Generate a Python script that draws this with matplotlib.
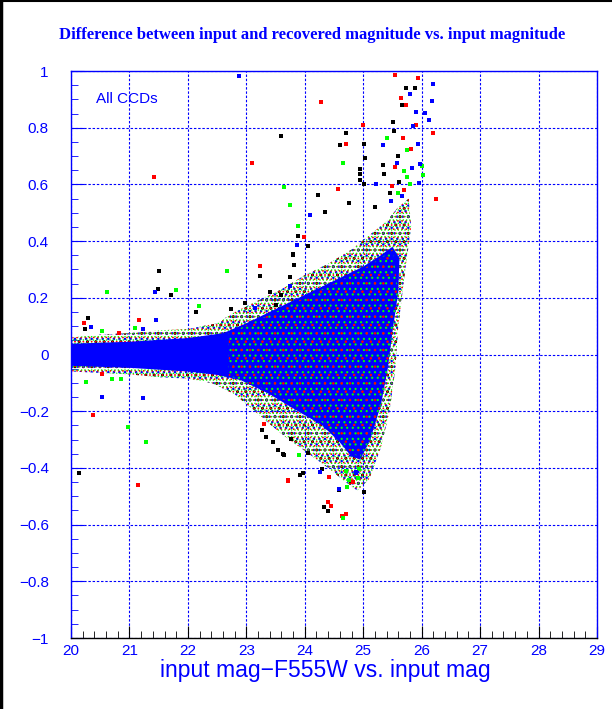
import matplotlib
matplotlib.use('Agg')
import matplotlib.pyplot as plt
from matplotlib.lines import Line2D
import numpy as np

# envelope of the dense point cloud (data coords)
outer_x = [20.0, 20.5, 21.0, 21.5, 22.0, 22.5, 22.8, 23.2, 23.6, 24.0, 24.4, 24.8, 25.1, 25.4, 25.6, 25.78,
           25.82, 25.72, 25.6, 25.55, 25.45, 25.3, 25.1, 24.9,
           24.7, 24.4, 24.0, 23.6, 23.2, 22.8, 22.4, 22.0, 21.5, 21.0, 20.5, 20.0]
outer_y = [0.06, 0.07, 0.075, 0.085, 0.09, 0.11, 0.15, 0.19, 0.23, 0.28, 0.32, 0.37, 0.42, 0.47, 0.52, 0.55,
           0.45, 0.30, 0.10, -0.05, -0.20, -0.33, -0.44, -0.48,
           -0.45, -0.40, -0.34, -0.28, -0.21, -0.14, -0.10, -0.085, -0.08, -0.07, -0.065, -0.06]

core_x = [20.0, 21.0, 22.0, 22.6, 23.0, 23.4, 23.8, 24.3, 24.7, 25.0, 25.3, 25.5, 25.62,
          25.6, 25.5, 25.42, 25.3, 25.12, 24.95,
          24.8, 24.6, 24.3, 23.8, 23.4, 22.9, 22.5, 22.0, 21.0, 20.0]
core_y = [0.038, 0.045, 0.058, 0.075, 0.11, 0.15, 0.19, 0.24, 0.28, 0.31, 0.35, 0.38, 0.34,
          0.22, 0.08, -0.05, -0.18, -0.30, -0.37,
          -0.36, -0.31, -0.25, -0.19, -0.14, -0.09, -0.072, -0.06, -0.047, -0.04]

speck_x = [22.7, 23.4, 23.8, 24.3, 24.7, 25.0, 25.3, 25.5, 25.6, 25.5, 25.42, 25.3, 25.12, 24.95,
           24.8, 24.6, 24.3, 23.8, 23.4, 22.7]
speck_y = [0.075, 0.14, 0.18, 0.23, 0.27, 0.30, 0.34, 0.37, 0.22, 0.08, -0.05, -0.18, -0.30, -0.36,
           -0.35, -0.30, -0.24, -0.18, -0.13, -0.075]

# isolated points, per colour
black_x = [25.73, 25.88, 25.67, 25.51, 25.53, 24.7, 23.6, 25.02, 24.6, 25.03, 25.59, 25.33, 24.94, 24.94,
           24.94, 25.36, 25.02, 24.23, 24.75, 24.34, 23.89, 23.8, 21.5, 21.49, 21.71, 22.14, 20.29, 20.24,
           23.79, 23.82, 23.74, 23.24, 23.41, 23.59, 23.5, 22.97, 22.73, 24.06, 25.45, 25.62, 25.2,
           20.13, 23.97, 23.91, 24.33, 24.39, 25.01, 24.58, 23.34, 23.62, 24.06, 23.27, 23.46, 23.54,
           23.64, 23.77, 24.29]
black_y = [0.94, 0.94, 0.88, 0.82, 0.79, 0.78, 0.77, 0.744, 0.74, 0.694, 0.70, 0.668, 0.653, 0.636,
           0.617, 0.636, 0.60, 0.563, 0.533, 0.503, 0.419, 0.356, 0.296, 0.231, 0.211, 0.15, 0.128, 0.091,
           0.352, 0.317, 0.274, 0.277, 0.222, 0.209, 0.174, 0.181, 0.16, 0.384, 0.57, 0.61, 0.52,
           -0.417, -0.417, -0.426, -0.537, -0.552, -0.484, -0.477, -0.29, -0.352, -0.349, -0.265, -0.307, -0.337,
           -0.355, -0.298, -0.405]

red_x = [25.54, 25.93, 24.27, 25.64, 25.73, 25.0, 25.91, 26.19, 25.68, 24.71, 25.81, 23.1, 25.49, 24.57,
         26.24, 23.99, 21.42, 20.22, 21.16, 20.82, 23.24, 25.7, 25.55,
         20.37, 20.53, 21.14, 23.71, 24.4, 24.45, 24.63, 24.71, 24.83, 23.31, 24.42, 23.72]
red_y = [0.985, 0.974, 0.89, 0.905, 0.88, 0.81, 0.81, 0.78, 0.765, 0.744, 0.726, 0.677, 0.596, 0.583,
         0.55, 0.414, 0.625, 0.11, 0.12, 0.075, 0.313, 0.58, 0.66,
         -0.212, -0.068, -0.459, -0.445, -0.519, -0.534, -0.57, -0.564, -0.449, -0.246, -0.431, -0.444]

green_x = [25.4, 25.75, 24.65, 26.0, 25.7, 25.75, 26.03, 23.65, 23.75, 23.89, 20.61, 21.8, 22.19, 21.09,
           20.53, 22.67, 25.6, 25.8,
           20.98, 21.29, 20.26, 20.71, 20.86, 24.66, 24.71, 23.9, 24.72, 24.75, 24.91, 24.93]
green_y = [0.764, 0.72, 0.677, 0.665, 0.648, 0.625, 0.634, 0.592, 0.527, 0.454, 0.22, 0.229, 0.172, 0.093,
           0.083, 0.296, 0.57, 0.60,
           -0.255, -0.309, -0.096, -0.086, -0.086, -0.576, -0.411, -0.355, -0.466, -0.444, -0.434, -0.405]

blue_x = [22.88, 26.2, 25.8, 26.17, 25.91, 26.06, 26.12, 25.85, 25.33, 25.93, 25.57, 25.97, 25.84, 25.95,
          25.22, 24.09, 21.44, 20.35, 21.45, 21.23, 23.75, 23.15, 23.87, 25.66, 25.48,
          20.53, 21.23, 24.88, 24.26, 24.59, 24.87]
blue_y = [0.983, 0.954, 0.92, 0.895, 0.855, 0.853, 0.827, 0.806, 0.74, 0.744, 0.677, 0.673, 0.657, 0.605,
          0.60, 0.493, 0.222, 0.098, 0.12, 0.089, 0.243, 0.163, 0.387, 0.56, 0.54,
          -0.149, -0.152, -0.417, -0.416, -0.475, -0.416]

xticks = [20, 21, 22, 23, 24, 25, 26, 27, 28, 29]
yticks = [-1, -0.8, -0.6, -0.4, -0.2, 0, 0.2, 0.4, 0.6, 0.8, 1]
ytick_labels = ['\u22121', '\u22120.8', '\u22120.6', '\u22120.4', '\u22120.2', '0',
                '0.2', '0.4', '0.6', '0.8', '1']

BLUE = '#0000ff'
RED = '#ff0000'
GREEN = '#00ff00'
BLACK = '#000000'

plt.rcParams['font.family'] = ['Liberation Sans', 'DejaVu Sans']

fig = plt.figure(figsize=(6.12, 7.09), dpi=100, facecolor='white')
ax = fig.add_axes([71 / 612, 71 / 709, 526 / 612, 567 / 709])
ax.set_xlim(20, 29)
ax.set_ylim(-1, 1)


def speckle(xs, ys, color, hatch, lw, z):
    # hatched polygon that stands in for many tiny markers
    with plt.rc_context({'hatch.linewidth': lw}):
        ax.fill(xs, ys, facecolor='none', edgecolor=color, hatch=hatch, linewidth=0, zorder=z)


# dense cloud: mixed outer fringe, solid blue body with green/red specks
speckle(outer_x, outer_y, BLACK, '..', 1.0, 2.0)
speckle(outer_x, outer_y, BLUE, '...', 1.0, 2.05)
speckle(outer_x, outer_y, RED, '....', 0.7, 2.1)
speckle(outer_x, outer_y, GREEN, '.....', 0.6, 2.15)
ax.fill(core_x, core_y, facecolor=BLUE, edgecolor='none', linewidth=0, zorder=2.3)
speckle(speck_x, speck_y, GREEN, '...', 0.8, 2.4)
speckle(speck_x, speck_y, RED, '..', 0.6, 2.45)

for xs, ys, c in [(black_x, black_y, BLACK), (red_x, red_y, RED),
                  (green_x, green_y, GREEN), (blue_x, blue_y, BLUE)]:
    ax.plot(xs, ys, 's', color=c, markersize=2.4, markeredgewidth=0, zorder=3)

# grid and axes
ax.set_xticks(xticks)
ax.set_xticklabels([str(t) for t in xticks])
ax.set_xticks(np.arange(20, 29.01, 0.2), minor=True)
ax.set_yticks(yticks)
ax.set_yticklabels(ytick_labels)
ax.set_yticks(np.arange(-1, 1.001, 0.05), minor=True)
ax.grid(True, which='major', color=BLUE, linestyle=(0, (2.2, 1.6)), linewidth=0.8, zorder=1)
ax.set_axisbelow(True)

for side in ['left', 'top', 'right']:
    ax.spines[side].set_color(BLUE)
    ax.spines[side].set_linewidth(1.0)
ax.spines['bottom'].set_color(BLACK)
ax.spines['bottom'].set_linewidth(1.0)

ax.tick_params(axis='y', which='both', direction='in', colors=BLUE, labelsize=11, pad=16)
ax.tick_params(axis='y', which='major', length=9)
ax.tick_params(axis='y', which='minor', length=5)
ax.tick_params(axis='x', which='both', direction='in', color=BLACK, labelcolor=BLUE, labelsize=11, pad=4)
ax.tick_params(axis='x', which='major', length=9)
ax.tick_params(axis='x', which='minor', length=5)

ax.text(20.42, 0.9, 'All CCDs', color=BLUE, fontsize=11, ha='left', va='center')

fig.text(312 / 612, 1 - 35 / 709,
         'Difference between input and recovered magnitude vs. input magnitude',
         color=BLUE, fontsize=12, fontweight='bold', family='Liberation Serif',
         ha='center', va='center')
fig.text(325 / 612, 1 - 670 / 709, 'input mag\u2212F555W vs. input mag',
         color=BLUE, fontsize=16.5, ha='center', va='center')

# black frame on left and top edges
fig.add_artist(Line2D([0.002, 0.002], [0, 1], color=BLACK, linewidth=2.5, transform=fig.transFigure))
fig.add_artist(Line2D([0, 1], [0.999, 0.999], color=BLACK, linewidth=1.5, transform=fig.transFigure))

fig.savefig('out.png', dpi=100, facecolor='white')
